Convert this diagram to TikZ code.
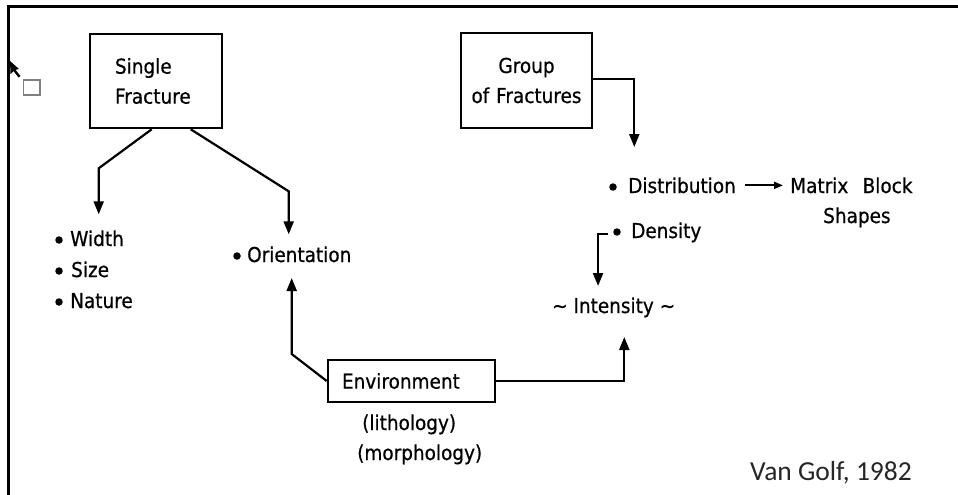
\documentclass[tikz,border=0pt]{standalone}
\usepackage{fontspec}
\setmainfont[FakeStretch=0.9,FakeBold=0.6]{DejaVu Sans}
\newfontfamily\carlito{Carlito}
\usetikzlibrary{arrows.meta}
\tikzset{
  lbl/.style={inner sep=0pt, font=\fontsize{20.5}{30}\selectfont, anchor=base west},
  boxnode/.style={draw, line width=2.6pt, font=\fontsize{20.5}{30}\selectfont},
  dotb/.style={circle, fill=black, inner sep=0pt, minimum size=7.5pt},
  arr/.style={line width=2.2pt, -{Triangle[length=13pt,width=10pt]}},
  thinarr/.style={line width=2pt, -{Triangle[length=9pt,width=7pt]}},
  frame/.style={line width=3pt}
}
\begin{document}
\begin{tikzpicture}[x=1pt,y=-1pt]
\useasboundingbox (0,0) rectangle (958,495);
\fill[white] (0,0) rectangle (958,495);
% frame
\coordinate (ftl) at (8.5,7);
\coordinate (ftr) at (958,7);
\coordinate (fbl) at (8.5,495);
\draw[frame] (ftr) -- (ftl) -- (fbl);
% cursor and small square
\fill[black] (10,61) -- (19,69) -- (15.5,69.8) -- (20.5,76) -- (18.5,77.5) -- (13.5,71) -- (10.5,74) -- cycle;
\draw[gray, line width=1.2pt] (23.5,80) rectangle (40,95);

% boxes
\node[boxnode, text width=82pt, align=left, inner xsep=25pt, inner ysep=0pt, minimum height=94pt] (sf) at (156,81) {Single\\Fracture};
\node[boxnode, text width=121pt, align=center, inner xsep=5pt, inner ysep=0pt, minimum height=95pt] (gf) at (526.5,80.5) {Group\\of Fractures};
\node[boxnode, text width=139pt, align=left, inner xsep=14pt, inner ysep=0pt, minimum height=42pt] (env) at (411.5,381) {Environment};

% left list
\node[dotb] (b1) at (59,240) {};
\node[lbl] (wid) at (70,246) {Width};
\node[dotb] (b2) at (59,271) {};
\node[lbl] (siz) at (71,277) {Size};
\node[dotb] (b3) at (59,302) {};
\node[lbl] (nat) at (70,308) {Nature};
% orientation
\node[dotb] (b4) at (237,256) {};
\node[lbl] (ori) at (247,262) {Orientation};
% env sub labels
\node[lbl] (lit) at (362,430) {(lithology)};
\node[lbl] (mor) at (357,460) {(morphology)};
% right side
\node[dotb] (b5) at (613,187) {};
\node[lbl] (dis) at (628,193) {Distribution};
\node[lbl] (mat) at (790,193) {Matrix\hspace{0.7em}Block};
\node[lbl] (sha) at (823,223) {Shapes};
\node[dotb] (b6) at (617,232) {};
\node[lbl] (den) at (631,238) {Density};
\node[lbl] (int) at (552,313) {\textasciitilde\ Intensity \textasciitilde};
% credit
\node[inner sep=0pt, anchor=base west, font=\carlito\fontsize{27.5}{30}\selectfont, text=black!85] (vg) at (750,480) {Van Golf, 1982};

% connectors
\draw[arr] ([xshift=63pt]sf.south west) -- ++(-53,39) -- ++(0,46);
\draw[arr] ([xshift=102pt]sf.south west) -- ++(98,62) -- ++(0,43);
\draw[arr] (env.west) -- ++(-35,-27) -- ++(0,-76);
\draw[arr] (env.east) -- ++(128,0) -- ++(0,-44);
\draw[arr] ([yshift=1.5pt]gf.east) -- ++(41,0) -- ++(0,68);
\draw[thinarr, shorten <=9pt, shorten >=7pt] (dis.east) -- (mat.west);
\draw[arr] ([xshift=-5pt,yshift=-2pt]b6.west) -- ++(-10,0) -- ++(0,52);
\end{tikzpicture}
\end{document}
